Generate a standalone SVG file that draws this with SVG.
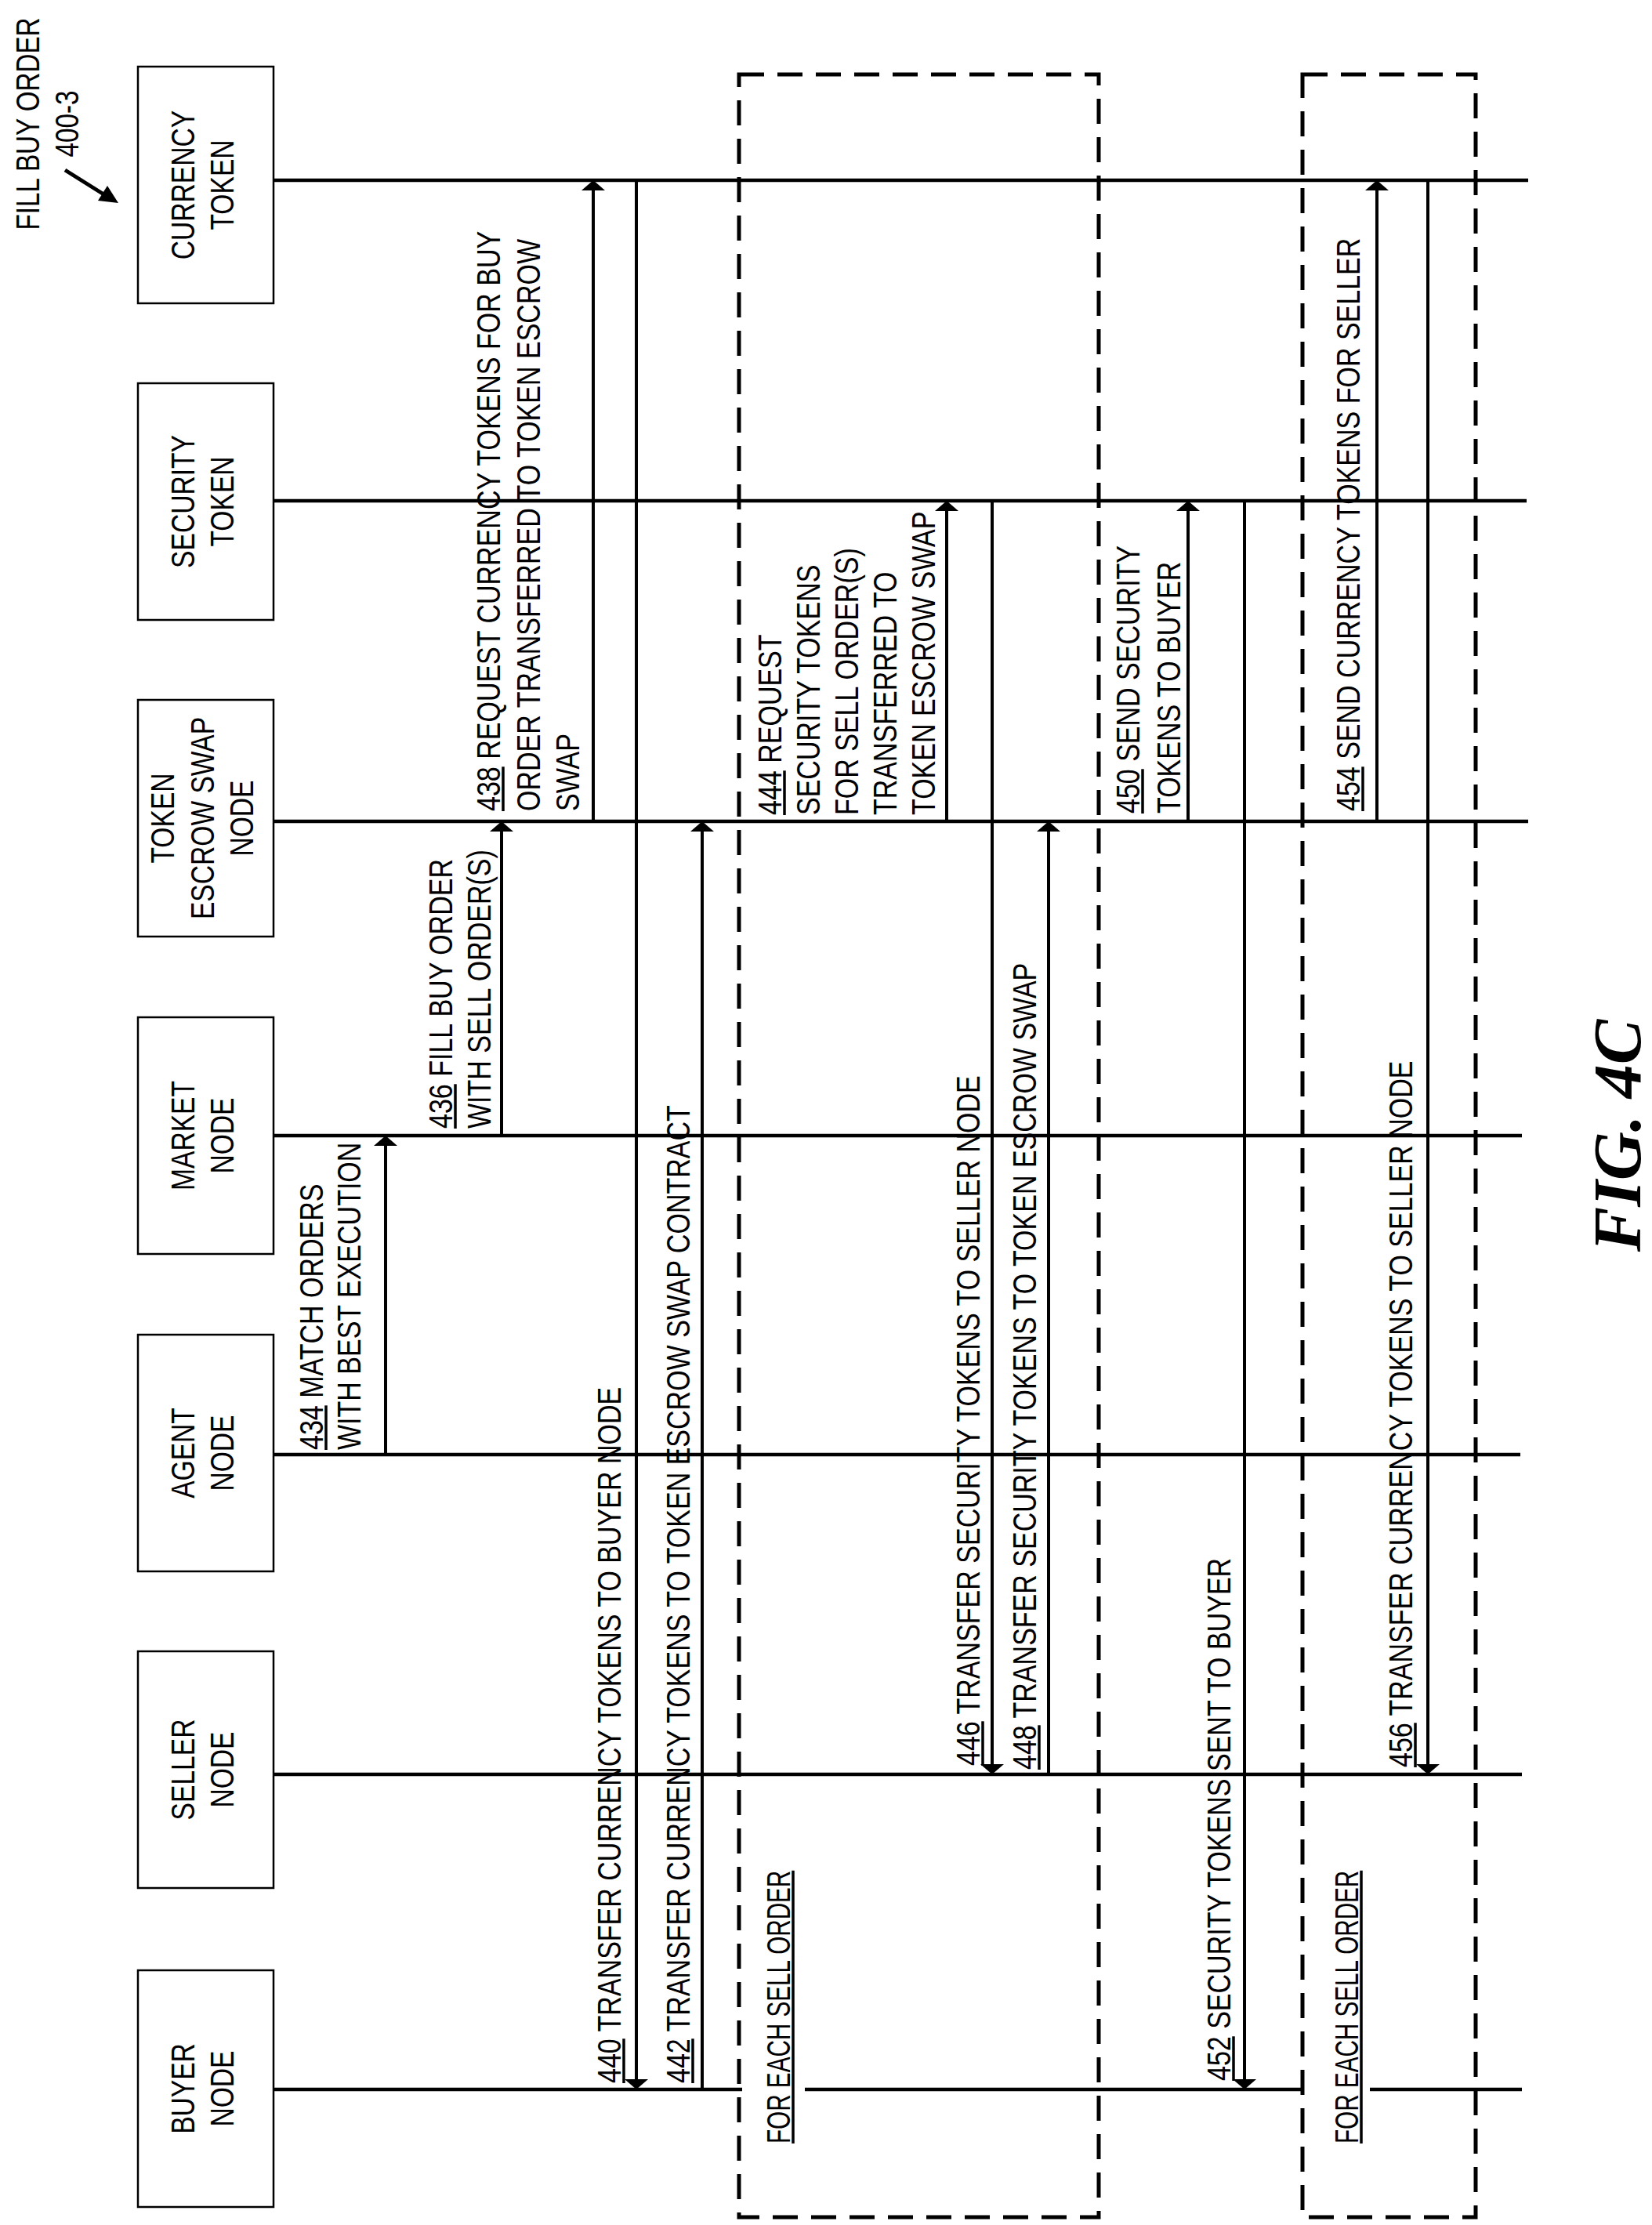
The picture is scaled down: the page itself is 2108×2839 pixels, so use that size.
<svg xmlns="http://www.w3.org/2000/svg" width="2108" height="2839" viewBox="0 0 2108 2839">
<style>
text{font-family:"Liberation Sans",Arial,sans-serif;font-size:42px;fill:#000}
.box{fill:#fff;stroke:#000;stroke-width:2.5}
.life{stroke:#000;stroke-width:4.5;fill:none}
.msg{stroke:#000;stroke-width:4;fill:none;marker-end:url(#ah)}
.loop{fill:none;stroke:#000;stroke-width:5;stroke-dasharray:32 17}
.ul{stroke:#000;stroke-width:3.5}
.c{text-anchor:middle}
</style>
<defs>
<marker id="ah" markerUnits="userSpaceOnUse" markerWidth="13" markerHeight="30" refX="3" refY="15" orient="auto">
<path d="M0,0 L13,15 L0,30 z" fill="#000"/>
</marker>
</defs>
<rect width="2108" height="2839" fill="#fff"/>

<g id="title">
<g transform="translate(50,158) rotate(-90) scale(0.79,1)">
<text class="c" x="0" y="0">FILL BUY ORDER</text>
<text class="c" x="0" y="50">400-3</text>
</g>
<line x1="83" y1="217" x2="134" y2="249" stroke="#000" stroke-width="5"/>
<polygon points="151,259 125,256 137,237" fill="#000"/>
</g>

<g id="connectors">
<g id="lifelines">
<line class="life" x1="349" y1="230" x2="1950" y2="230"/>
<line class="life" x1="349" y1="639" x2="1948" y2="639"/>
<line class="life" x1="349" y1="1048" x2="1950" y2="1048"/>
<line class="life" x1="349" y1="1449" x2="1942" y2="1449"/>
<line class="life" x1="349" y1="1856" x2="1940" y2="1856"/>
<line class="life" x1="349" y1="2264" x2="1942" y2="2264"/>
<line class="life" x1="349" y1="2666" x2="947" y2="2666"/>
<line class="life" x1="1027" y1="2666" x2="1662" y2="2666"/>
<line class="life" x1="1748" y1="2666" x2="1942" y2="2666"/>
</g>
<g id="messages">
<path class="msg" d="M492,1856 V1459"/>
<path class="msg" d="M640,1449 V1058"/>
<path class="msg" d="M757,1048 V240"/>
<path class="msg" d="M812,230 V2656"/>
<path class="msg" d="M896,2666 V1058"/>
<path class="msg" d="M1208,1048 V649"/>
<path class="msg" d="M1266,639 V2254"/>
<path class="msg" d="M1338,2264 V1058"/>
<path class="msg" d="M1516,1048 V649"/>
<path class="msg" d="M1588,639 V2656"/>
<path class="msg" d="M1757,1048 V240"/>
<path class="msg" d="M1822,230 V2254"/>
</g>
<g id="loops">
<rect class="loop" x="943" y="95" width="459" height="2734"/>
<rect class="loop" x="1662" y="95" width="221" height="2734"/>
</g>
</g>

<g id="node-currency">
<rect class="box" x="176" y="85" width="173" height="302"/>
<g transform="translate(248,236) rotate(-90) scale(0.8,1)"><text class="c" y="0">CURRENCY</text><text class="c" y="50">TOKEN</text></g>
</g>
<g id="node-security">
<rect class="box" x="176" y="489" width="173" height="302"/>
<g transform="translate(248,640) rotate(-90) scale(0.8,1)"><text class="c" y="0">SECURITY</text><text class="c" y="50">TOKEN</text></g>
</g>
<g id="node-escrow">
<rect class="box" x="176" y="893" width="173" height="302"/>
<g transform="translate(222,1044) rotate(-90) scale(0.8,1)"><text class="c" y="0">TOKEN</text><text class="c" y="51">ESCROW SWAP</text><text class="c" y="101">NODE</text></g>
</g>
<g id="node-market">
<rect class="box" x="176" y="1298" width="173" height="302"/>
<g transform="translate(248,1449) rotate(-90) scale(0.8,1)"><text class="c" y="0">MARKET</text><text class="c" y="50">NODE</text></g>
</g>
<g id="node-agent">
<rect class="box" x="176" y="1703" width="173" height="302"/>
<g transform="translate(248,1854) rotate(-90) scale(0.8,1)"><text class="c" y="0">AGENT</text><text class="c" y="50">NODE</text></g>
</g>
<g id="node-seller">
<rect class="box" x="176" y="2107" width="173" height="302"/>
<g transform="translate(248,2258) rotate(-90) scale(0.8,1)"><text class="c" y="0">SELLER</text><text class="c" y="50">NODE</text></g>
</g>
<g id="node-buyer">
<rect class="box" x="176" y="2514" width="173" height="302"/>
<g transform="translate(248,2665) rotate(-90) scale(0.8,1)"><text class="c" y="0">BUYER</text><text class="c" y="50">NODE</text></g>
</g>

<g id="labels">
<g transform="translate(412,1850) rotate(-90) scale(0.81,1)">
<text y="0">434 MATCH ORDERS</text><text y="48">WITH BEST EXECUTION</text>
<line class="ul" x1="0" y1="4" x2="70" y2="4"/></g>
<g transform="translate(577,1440) rotate(-90) scale(0.81,1)">
<text y="0">436 FILL BUY ORDER</text><text y="49">WITH SELL ORDER(S)</text>
<line class="ul" x1="0" y1="4" x2="70" y2="4"/></g>
<g transform="translate(638,1035) rotate(-90) scale(0.81,1)">
<text y="0">438 REQUEST CURRENCY TOKENS FOR BUY</text><text y="51">ORDER TRANSFERRED TO TOKEN ESCROW</text><text y="101">SWAP</text>
<line class="ul" x1="0" y1="4" x2="70" y2="4"/></g>
<g transform="translate(792,2658) rotate(-90) scale(0.81,1)">
<text y="0">440 TRANSFER CURRENCY TOKENS TO BUYER NODE</text>
<line class="ul" x1="0" y1="4" x2="70" y2="4"/></g>
<g transform="translate(880,2658) rotate(-90) scale(0.81,1)">
<text y="0">442 TRANSFER CURRENCY TOKENS TO TOKEN ESCROW SWAP CONTRACT</text>
<line class="ul" x1="0" y1="4" x2="70" y2="4"/></g>
<g transform="translate(1008,2735) rotate(-90) scale(0.81,1)">
<text y="0" textLength="430" lengthAdjust="spacingAndGlyphs">FOR EACH SELL ORDER</text>
<line class="ul" x1="0" y1="4" x2="430" y2="4"/></g>
<g transform="translate(997,1040) rotate(-90) scale(0.81,1)">
<text y="0">444 REQUEST</text><text y="49">SECURITY TOKENS</text><text y="98">FOR SELL ORDER(S)</text><text y="147">TRANSFERRED TO</text><text y="196">TOKEN ESCROW SWAP</text>
<line class="ul" x1="0" y1="4" x2="70" y2="4"/></g>
<g transform="translate(1250,2253) rotate(-90) scale(0.81,1)">
<text y="0">446 TRANSFER SECURITY TOKENS TO SELLER NODE</text>
<line class="ul" x1="0" y1="4" x2="70" y2="4"/></g>
<g transform="translate(1322,2258) rotate(-90) scale(0.81,1)">
<text y="0">448 TRANSFER SECURITY TOKENS TO TOKEN ESCROW SWAP</text>
<line class="ul" x1="0" y1="4" x2="70" y2="4"/></g>
<g transform="translate(1454,1038) rotate(-90) scale(0.81,1)">
<text y="0">450 SEND SECURITY</text><text y="52">TOKENS TO BUYER</text>
<line class="ul" x1="0" y1="4" x2="70" y2="4"/></g>
<g transform="translate(1570,2655) rotate(-90) scale(0.81,1)">
<text y="0">452 SECURITY TOKENS SENT TO BUYER</text>
<line class="ul" x1="0" y1="4" x2="70" y2="4"/></g>
<g transform="translate(1733,2735) rotate(-90) scale(0.81,1)">
<text y="0" textLength="430" lengthAdjust="spacingAndGlyphs">FOR EACH SELL ORDER</text>
<line class="ul" x1="0" y1="4" x2="430" y2="4"/></g>
<g transform="translate(1735,1035) rotate(-90) scale(0.81,1)">
<text y="0">454 SEND CURRENCY TOKENS FOR SELLER</text>
<line class="ul" x1="0" y1="4" x2="70" y2="4"/></g>
<g transform="translate(1802,2255) rotate(-90) scale(0.81,1)">
<text y="0">456 TRANSFER CURRENCY TOKENS TO SELLER NODE</text>
<line class="ul" x1="0" y1="4" x2="70" y2="4"/></g>
</g>

<text transform="translate(2093,1449) rotate(-90)" text-anchor="middle" style="font-family:'Liberation Serif','Times New Roman',serif;font-weight:bold;font-style:italic;font-size:86px">FIG. 4C</text>
</svg>
